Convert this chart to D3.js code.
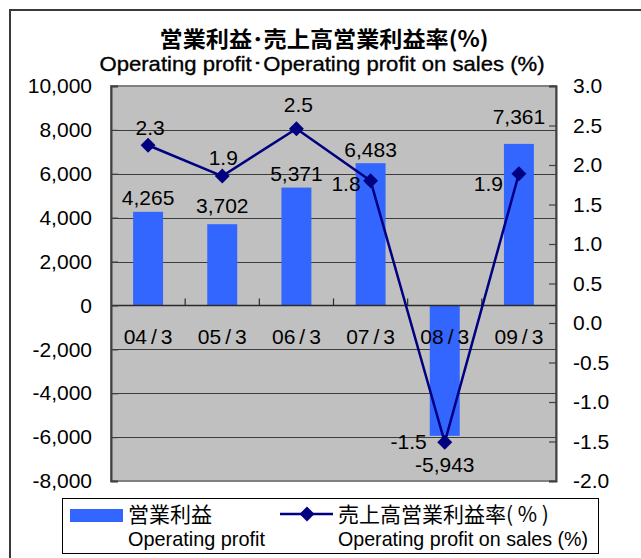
<!DOCTYPE html>
<html>
<head>
<meta charset="utf-8">
<script src="https://cdn.jsdelivr.net/npm/d3@7/dist/d3.min.js"></script>
<style>
  html, body { margin: 0; padding: 0; background: #fff; }
  svg { display: block; }
  text { font-family: "Liberation Sans", Arial, sans-serif; fill: #000; }
  .jp { font-family: "Noto Sans CJK JP", "Noto Sans CJK SC", sans-serif; }
</style>
</head>
<body>
<svg id="chart" width="641" height="558"></svg>
<script>
// ---- data ----
const categories = ["04/3", "05/3", "06/3", "07/3", "08/3", "09/3"];
const operatingProfit = [4265, 3702, 5371, 6483, -5943, 7361];
const profitRate = [2.25, 1.86, 2.46, 1.80, -1.51, 1.89];
const profitRateLabels = ["2.3", "1.9", "2.5", "1.8", "-1.5", "1.9"];
const leftTicks = [-8000, -6000, -4000, -2000, 0, 2000, 4000, 6000, 8000, 10000];
const rightTicks = [-2.0, -1.5, -1.0, -0.5, 0.0, 0.5, 1.0, 1.5, 2.0, 2.5, 3.0];
const titleJP = "営業利益･売上高営業利益率(%)";
const titleEN = "Operating profit･Operating profit on sales (%)";
const legendBarJP = "営業利益";
const legendBarEN = "Operating profit";
const legendLineJP = "売上高営業利益率( % )";
const legendLineEN = "Operating profit on sales (%)";

// ---- layout ----
const plot = { x0: 111, x1: 556, y0: 86, y1: 481 };
const barColor = "#3366FF";
const lineColor = "#000080";
const plotBg = "#C0C0C0";
const FS = 21;

const loc = d3.formatLocale({ decimal: ".", thousands: ",", grouping: [3], currency: ["", ""], minus: "-" });
const fmtL = loc.format(",");
const fmtR = loc.format(".1f");

const svg = d3.select("#chart");

// outer frame
svg.append("rect").attr("x", 10).attr("y", 10).attr("width", 700).attr("height", 700)
  .attr("fill", "#fff").attr("stroke", "#3a3a3a").attr("stroke-width", 2);

// scales
const x = d3.scaleBand().domain(categories).range([plot.x0, plot.x1]).paddingInner(0.596).paddingOuter(0.298);
const xc = d3.scaleBand().domain(categories).range([plot.x0, plot.x1]);
const yL = d3.scaleLinear().domain([-8000, 10000]).range([plot.y1, plot.y0]);
const yR = d3.scaleLinear().domain([-2, 3]).range([plot.y1, plot.y0]);

// plot area
svg.append("rect").attr("x", plot.x0).attr("y", plot.y0)
  .attr("width", plot.x1 - plot.x0).attr("height", plot.y1 - plot.y0)
  .attr("fill", plotBg).attr("stroke", "#808080").attr("stroke-width", 2);

// gridlines
svg.append("g").selectAll("line")
  .data(leftTicks.filter(v => v !== 0 && v !== -8000 && v !== 10000))
  .join("line")
  .attr("x1", plot.x0).attr("x2", plot.x1)
  .attr("y1", d => Math.round(yL(d)) + 0.5).attr("y2", d => Math.round(yL(d)) + 0.5)
  .attr("stroke", "#3c3c3c").attr("stroke-width", 1);

// bars
svg.append("g").selectAll("rect")
  .data(operatingProfit)
  .join("rect")
  .attr("x", (d, i) => x(categories[i]))
  .attr("width", x.bandwidth())
  .attr("y", d => yL(Math.max(0, d)))
  .attr("height", d => Math.abs(yL(d) - yL(0)))
  .attr("fill", barColor);

// zero (category) axis line
const zeroY = yL(0);
svg.append("line").attr("x1", plot.x0).attr("x2", plot.x1)
  .attr("y1", zeroY).attr("y2", zeroY).attr("stroke", "#2a2a2a").attr("stroke-width", 1.5);
// category boundary ticks pointing up
svg.append("g").selectAll("line")
  .data(categories.slice(1))
  .join("line")
  .attr("x1", d => xc(d)).attr("x2", d => xc(d))
  .attr("y1", zeroY).attr("y2", zeroY - 7)
  .attr("stroke", "#2a2a2a").attr("stroke-width", 1.2);

// category labels (slash slightly spaced, as in the original)
const xAxis = d3.axisBottom(xc).tickSize(0).tickPadding(0).tickFormat(() => "");
const gx = svg.append("g").attr("transform", `translate(0,${zeroY})`).call(xAxis);
gx.select(".domain").remove();
gx.selectAll(".tick text").each(function (d) {
  const t = d3.select(this).attr("dy", null).attr("y", 39).attr("font-size", FS)
    .attr("font-family", "Liberation Sans, Arial, sans-serif");
  const parts = d.split("/");
  t.append("tspan").text(parts[0]);
  t.append("tspan").attr("dx", 4).text("/");
  t.append("tspan").attr("dx", 4).text(parts[1]);
});

// left axis
const gl = svg.append("g").attr("transform", `translate(${plot.x0},0)`)
  .call(d3.axisLeft(yL).tickValues(leftTicks).tickSize(-7).tickPadding(19).tickFormat(fmtL));
gl.select(".domain").attr("stroke", "#404040").attr("stroke-width", 2);
gl.selectAll(".tick line").attr("stroke", "#404040").attr("stroke-width", 1.2);
gl.selectAll("text").attr("font-size", FS).attr("font-family", "Liberation Sans, Arial, sans-serif").attr("fill", "#000");

// right axis
const gr = svg.append("g").attr("transform", `translate(${plot.x1},0)`)
  .call(d3.axisRight(yR).tickValues(rightTicks).tickSize(-7).tickPadding(17).tickFormat(fmtR));
gr.select(".domain").attr("stroke", "#404040").attr("stroke-width", 2);
gr.selectAll(".tick line").attr("stroke", "#404040").attr("stroke-width", 1.2);
gr.selectAll("text").attr("font-size", FS).attr("font-family", "Liberation Sans, Arial, sans-serif").attr("fill", "#000");

// line
const cx = i => xc(categories[i]) + xc.bandwidth() / 2;
const line = d3.line().x((d, i) => cx(i)).y(d => yR(d));
svg.append("path").datum(profitRate).attr("d", line)
  .attr("fill", "none").attr("stroke", lineColor).attr("stroke-width", 2.5);

const diamond = d3.symbol(d3.symbolSquare, 112);
svg.append("g").selectAll("path")
  .data(profitRate)
  .join("path")
  .attr("d", diamond)
  .attr("transform", (d, i) => `translate(${cx(i)},${yR(d)}) rotate(45)`)
  .attr("fill", lineColor);

// bar value labels (placement per point)
const barLabelDy = [-6.5, -11.5, -6.5, -6.3, 36, -20];
svg.append("g").selectAll("text")
  .data(operatingProfit)
  .join("text")
  .attr("x", (d, i) => cx(i))
  .attr("y", (d, i) => yL(d) + barLabelDy[i])
  .attr("text-anchor", "middle").attr("font-size", FS)
  .text(d => fmtL(d));

// rate labels (placement per point)
const rateLabelPos = [
  { a: "middle", dx: 2, dy: -10 },
  { a: "middle", dx: 1, dy: -10.6 },
  { a: "middle", dx: 2, dy: -17 },
  { a: "end", dx: -10, dy: 10 },
  { a: "end", dx: -18, dy: 7 },
  { a: "end", dx: -16, dy: 17 }
];
svg.append("g").selectAll("text")
  .data(profitRate)
  .join("text")
  .attr("x", (d, i) => cx(i) + rateLabelPos[i].dx)
  .attr("y", (d, i) => yR(d) + rateLabelPos[i].dy)
  .attr("text-anchor", (d, i) => rateLabelPos[i].a).attr("font-size", FS)
  .text((d, i) => profitRateLabels[i]);

// title
svg.append("text").attr("class", "jp").attr("x", 324).attr("y", 47)
  .attr("text-anchor", "middle").attr("font-size", 22).attr("font-weight", "bold")
  .attr("textLength", 329).attr("lengthAdjust", "spacingAndGlyphs")
  .text(titleJP);
svg.append("text").attr("x", 322).attr("y", 71)
  .attr("text-anchor", "middle").attr("font-size", 21)
  .attr("textLength", 445).attr("lengthAdjust", "spacingAndGlyphs")
  .attr("stroke", "#000").attr("stroke-width", 0.35)
  .text(titleEN);

// legend
const lg = svg.append("g");
lg.append("rect").attr("x", 62.5).attr("y", 498.5).attr("width", 536).attr("height", 55)
  .attr("fill", "#fff").attr("stroke", "#000").attr("stroke-width", 1);
lg.append("rect").attr("x", 70).attr("y", 509).attr("width", 53).attr("height", 13).attr("fill", barColor);
lg.append("text").attr("class", "jp").attr("x", 128).attr("y", 522).attr("font-size", 21).text(legendBarJP);
lg.append("text").attr("x", 128).attr("y", 546).attr("font-size", FS)
  .attr("textLength", 137).attr("lengthAdjust", "spacingAndGlyphs").text(legendBarEN);
lg.append("line").attr("x1", 280).attr("x2", 333).attr("y1", 514).attr("y2", 514)
  .attr("stroke", lineColor).attr("stroke-width", 2.5);
lg.append("path").attr("d", diamond).attr("transform", "translate(307,514) rotate(45)").attr("fill", lineColor);
lg.append("text").attr("class", "jp").attr("x", 338).attr("y", 522).attr("font-size", 21).text(legendLineJP);
lg.append("text").attr("x", 338).attr("y", 546).attr("font-size", FS)
  .attr("textLength", 250).attr("lengthAdjust", "spacingAndGlyphs").text(legendLineEN);
</script>
</body>
</html>
